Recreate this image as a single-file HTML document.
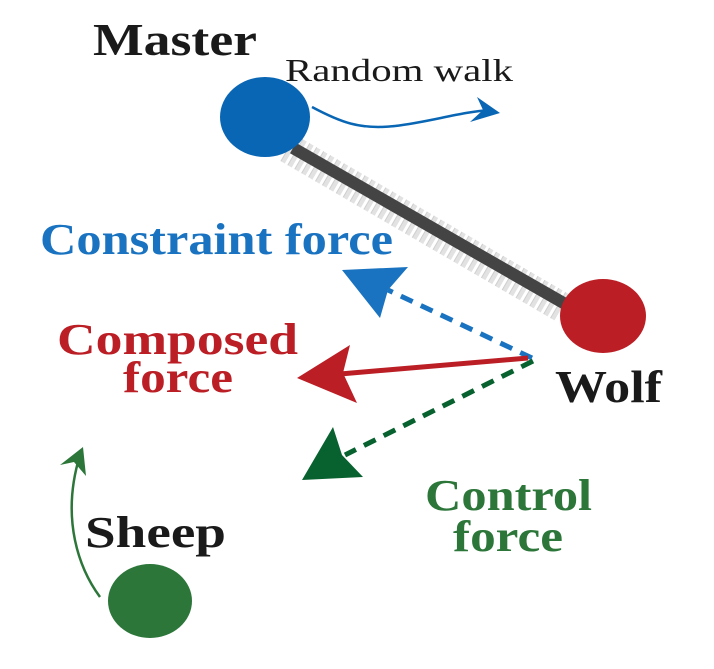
<!DOCTYPE html>
<html><head><meta charset="utf-8"><style>html,body{margin:0;padding:0;background:#fff}</style></head>
<body>
<svg width="714" height="664" viewBox="0 0 714 664" xmlns="http://www.w3.org/2000/svg" font-family="'Liberation Serif', serif" font-weight="bold">
<!-- spring -->
<line x1="288" y1="148" x2="563" y2="308" stroke="#e2e2e2" stroke-width="30" stroke-dasharray="5 3"/>
<line x1="288" y1="148" x2="563" y2="308" stroke="#c8c8c8" stroke-width="30" stroke-dasharray="1 7" opacity="0.7"/>
<line x1="293" y1="148" x2="567" y2="305" stroke="#444" stroke-width="12"/>
<!-- circles -->
<ellipse cx="265" cy="117" rx="45" ry="40" fill="#0966b4"/>
<ellipse cx="603" cy="316" rx="43" ry="37" fill="#bb1e25"/>
<ellipse cx="150" cy="601" rx="42" ry="37" fill="#2c763a"/>
<!-- random walk -->
<path d="M312 107 C340 122 360 130 395 126 C430 122 460 112 490 110" fill="none" stroke="#0966b4" stroke-width="2.5"/>
<polygon points="500,113 477,97 483,110 470,122" fill="#0966b4"/>
<!-- sheep arrow -->
<path d="M100 597 C80 570 60 520 80 455" fill="none" stroke="#2c763a" stroke-width="2.5"/>
<polygon points="83,447 60,465 74,462 86,476" fill="#2c763a"/>
<!-- blue dashed -->
<line x1="532" y1="358" x2="388" y2="290" stroke="#1a73c0" stroke-width="5" stroke-dasharray="13 9"/>
<polygon points="342,270 408,267 388,290 380,318" fill="#1a73c0"/>
<!-- red -->
<line x1="528" y1="358" x2="340" y2="374" stroke="#bb1e25" stroke-width="5"/>
<polygon points="297,378 350,345 343,373 357,403" fill="#bb1e25"/>
<!-- green dashed -->
<line x1="533" y1="361" x2="345" y2="455" stroke="#08622f" stroke-width="5" stroke-dasharray="13 9"/>
<polygon points="333,427 342,455 363,477 302,480" fill="#08622f"/>
<!-- text -->
<text x="93" y="55" font-size="46" fill="#1a1a1a" textLength="164" lengthAdjust="spacingAndGlyphs">Master</text>
<text x="285" y="81" font-size="32" font-weight="normal" fill="#1a1a1a" textLength="228" lengthAdjust="spacingAndGlyphs">Random walk</text>
<text x="40" y="254" font-size="44" fill="#1a73c0" textLength="353" lengthAdjust="spacingAndGlyphs">Constraint force</text>
<text x="57" y="354" font-size="44" fill="#bb1e25" textLength="241" lengthAdjust="spacingAndGlyphs">Composed</text>
<text x="123" y="392" font-size="44" fill="#bb1e25" textLength="110" lengthAdjust="spacingAndGlyphs">force</text>
<text x="555" y="402" font-size="46" fill="#1a1a1a" textLength="107" lengthAdjust="spacingAndGlyphs">Wolf</text>
<text x="425" y="510" font-size="44" fill="#2c763a" textLength="167" lengthAdjust="spacingAndGlyphs">Control</text>
<text x="453" y="551" font-size="44" fill="#2c763a" textLength="110" lengthAdjust="spacingAndGlyphs">force</text>
<text x="85" y="547" font-size="44" fill="#1a1a1a" textLength="141" lengthAdjust="spacingAndGlyphs">Sheep</text>
</svg>
</body></html>
